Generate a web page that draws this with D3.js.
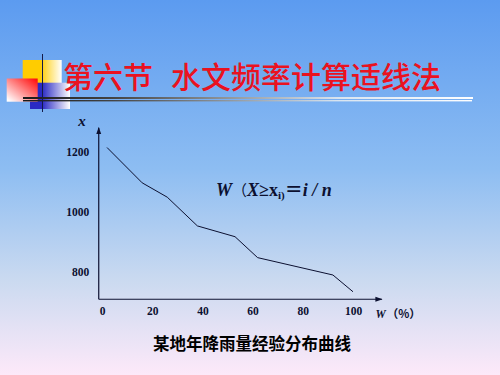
<!DOCTYPE html>
<html>
<head>
<meta charset="utf-8">
<script src="https://cdn.jsdelivr.net/npm/d3@7"></script>
<style>
  body { margin: 0; padding: 0; overflow: hidden; }
  svg { display: block; }
</style>
</head>
<body>
<div id="vis"></div>
<script>
// data
var wPct = [2, 16, 26, 38, 53, 62, 92, 100];
var rain = [1215, 1097, 1049, 953, 917, 847, 789, 733];
var xTicks = [0, 20, 40, 60, 80, 100];
var yTicks = [800, 1000, 1200];

var width = 500,
    height = 375;

var svg = d3.select("#vis").append("svg")
    .attr("width", width)
    .attr("height", height);

var defs = svg.append("defs");

// background
var bg = defs.append("linearGradient").attr("id", "bg")
    .attr("x1", 0).attr("y1", 0).attr("x2", 0).attr("y2", 1);
bg.append("stop").attr("offset", 0).attr("stop-color", "#5c9bf0");
bg.append("stop").attr("offset", 0.45).attr("stop-color", "#8dbdf2");
bg.append("stop").attr("offset", 0.75).attr("stop-color", "#cbdaf0");
bg.append("stop").attr("offset", 1).attr("stop-color", "#fde9f9");

svg.append("rect")
    .attr("width", width)
    .attr("height", height)
    .attr("fill", "url(#bg)");

// title decoration
var yel = defs.append("linearGradient").attr("id", "yel");
yel.append("stop").attr("offset", 0.45).attr("stop-color", "#ffcc00");
yel.append("stop").attr("offset", 1).attr("stop-color", "#ffffff");

var blu = defs.append("linearGradient").attr("id", "blu");
blu.append("stop").attr("offset", 0.3).attr("stop-color", "#2a2ac4");
blu.append("stop").attr("offset", 1).attr("stop-color", "#ffffff");

var red = defs.append("linearGradient").attr("id", "red")
    .attr("x1", 1).attr("y1", 0).attr("x2", 0).attr("y2", 1);
red.append("stop").attr("offset", 0.05).attr("stop-color", "#ff1010");
red.append("stop").attr("offset", 0.95).attr("stop-color", "#ffffff");

var rule = defs.append("linearGradient").attr("id", "rule");
rule.append("stop").attr("offset", 0).attr("stop-color", "#1a1a1a");
rule.append("stop").attr("offset", 0.2).attr("stop-color", "#444");
rule.append("stop").attr("offset", 0.7).attr("stop-color", "#d8e4f0");
rule.append("stop").attr("offset", 1).attr("stop-color", "#ffffff");

svg.append("rect").attr("x", 22.7).attr("y", 60).attr("width", 39).attr("height", 23)
    .attr("fill", "url(#yel)");
svg.append("rect").attr("x", 30).attr("y", 82.7).attr("width", 40).attr("height", 26.3)
    .attr("fill", "url(#blu)");
svg.append("rect").attr("x", 6.7).attr("y", 78.5).attr("width", 31).attr("height", 23.2)
    .attr("fill", "url(#red)");

svg.append("rect").attr("x", 23).attr("y", 97).attr("width", 450).attr("height", 2)
    .attr("fill", "url(#rule)");
svg.append("rect").attr("x", 23).attr("y", 100).attr("width", 449).attr("height", 1.4)
    .attr("fill", "url(#rule)");

svg.append("line")
    .attr("x1", 42.5).attr("x2", 42.5).attr("y1", 54).attr("y2", 112)
    .attr("stroke", "#141a48").attr("stroke-width", 1);

var titleFont = "'Noto Sans CJK SC', sans-serif";
svg.append("text").attr("x", 63).attr("y", 88)
    .style("font-family", titleFont).style("font-size", "30px")
    .style("font-weight", 500)
    .attr("fill", "#ea1220")
    .text("第六节");
svg.append("text").attr("x", 171).attr("y", 88)
    .style("font-family", titleFont).style("font-size", "30px")
    .style("font-weight", 500)
    .attr("fill", "#ea1220")
    .text("水文频率计算适线法");

// chart
var x = d3.scaleLinear().domain([0, 100]).range([102, 353]);
var y = d3.scaleLinear().domain([800, 1200]).range([271.7, 152]);

var ink = "#0c1030";
var serif = "'Liberation Serif', 'Times New Roman', serif";

defs.append("marker")
    .attr("id", "arrow")
    .attr("viewBox", "0 0 10 10")
    .attr("refX", 9).attr("refY", 5)
    .attr("markerWidth", 6).attr("markerHeight", 6)
    .attr("orient", "auto")
    .append("path")
    .attr("d", "M0,1.5L10,5L0,8.5z")
    .attr("fill", ink);

var x0 = x(-1.3), y0 = y(708);

svg.append("line")
    .attr("x1", x0).attr("y1", y0).attr("x2", x0).attr("y2", y(1281))
    .attr("stroke", ink).attr("stroke-width", 1.2)
    .attr("marker-end", "url(#arrow)");
svg.append("line")
    .attr("x1", x0).attr("y1", y0).attr("x2", x(111.5)).attr("y2", y0)
    .attr("stroke", ink).attr("stroke-width", 1.2)
    .attr("marker-end", "url(#arrow)");

var yAxis = svg.append("g")
    .attr("transform", "translate(" + (x0 - 9.5) + ",0)")
    .call(d3.axisLeft(y).tickValues(yTicks).tickFormat(d3.format("d"))
        .tickSize(0).tickPadding(0));
yAxis.select(".domain").remove();

var xAxis = svg.append("g")
    .attr("transform", "translate(0," + (y0 + 8) + ")")
    .call(d3.axisBottom(x).tickValues(xTicks).tickFormat(d3.format("d"))
        .tickSize(0).tickPadding(0));
xAxis.select(".domain").remove();

svg.selectAll(".tick text")
    .style("font-family", serif)
    .style("font-size", "11.5px")
    .style("font-weight", "bold")
    .attr("fill", ink);

var line = d3.line()
    .x(function(d, i) { return x(wPct[i]); })
    .y(function(d) { return y(d); });

svg.append("path")
    .datum(rain)
    .attr("d", line)
    .attr("fill", "none")
    .attr("stroke", ink)
    .attr("stroke-width", 1);

// axis titles
svg.append("text").attr("x", 82).attr("y", 126)
    .attr("text-anchor", "middle")
    .style("font-family", serif).style("font-size", "15px")
    .style("font-weight", "bold").style("font-style", "italic")
    .attr("fill", ink).text("x");

var wl = svg.append("text").attr("x", 375.5).attr("y", 317.5)
    .style("font-family", serif).style("font-size", "11.5px")
    .style("font-weight", "bold").attr("fill", ink);
wl.append("tspan").style("font-style", "italic").text("W");
wl.append("tspan").attr("dx", 1).style("font-family", "'Noto Sans CJK SC'")
    .text("（%）");

// formula
var f = svg.append("text").attr("x", 216).attr("y", 196)
    .style("font-family", serif).style("font-size", "18px")
    .style("font-weight", "bold").attr("fill", ink);
f.append("tspan").style("font-style", "italic").text("W");
f.append("tspan").style("font-family", "'Noto Sans CJK SC'").style("font-weight", "normal")
    .style("font-size", "15px").text("（");
f.append("tspan").style("font-style", "italic").text("X");
f.append("tspan").text("≥");
f.append("tspan").text("x");
f.append("tspan").style("font-size", "11px").attr("dy", 3).text("i)");
f.append("tspan").attr("dy", -3).style("font-family", "'Noto Sans CJK SC'").text("＝");
f.append("tspan").style("font-style", "italic").text("i / n");

// caption
svg.append("text").attr("x", 252).attr("y", 350)
    .attr("text-anchor", "middle")
    .style("font-family", titleFont).style("font-size", "16.5px")
    .style("font-weight", "bold").attr("fill", "#000")
    .text("某地年降雨量经验分布曲线");
</script>
</body>
</html>
